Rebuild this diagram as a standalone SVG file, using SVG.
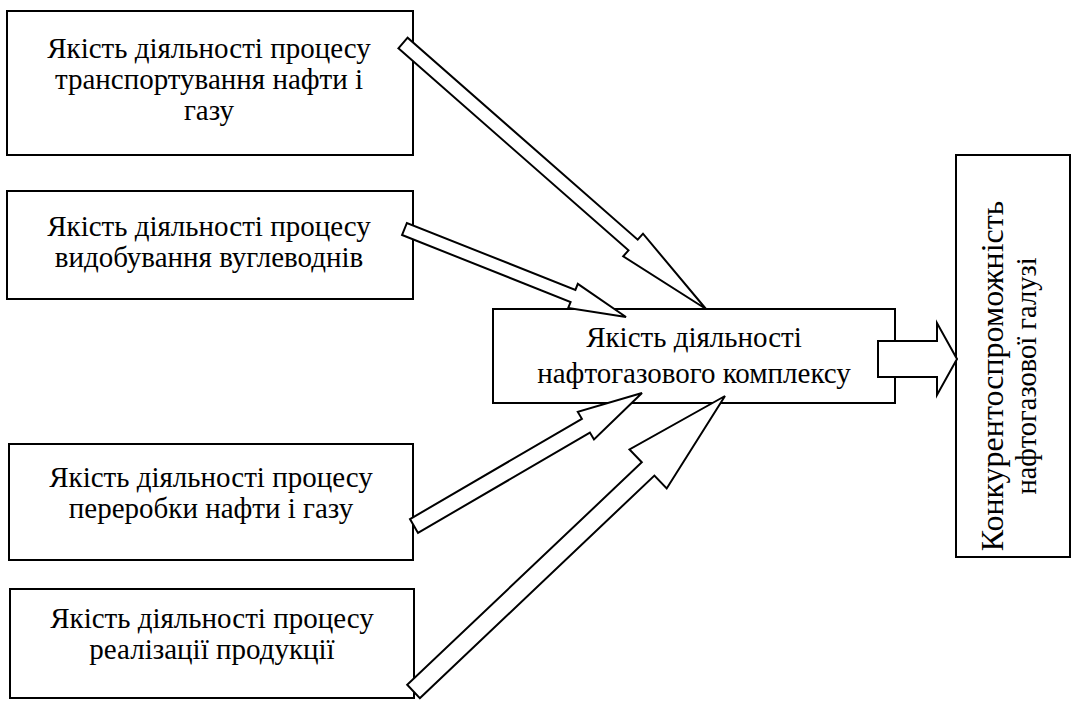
<svg xmlns="http://www.w3.org/2000/svg" width="1076" height="701" viewBox="0 0 1076 701">
<style>
.box{fill:#fff;stroke:#000;stroke-width:2}
.arr{fill:#fff;stroke:#000;stroke-width:2;stroke-linejoin:miter}
.t{font-family:'Liberation Serif','Times New Roman',Tinos,'DejaVu Serif',serif;font-size:29px;fill:#000;text-anchor:middle}
.v{font-size:32px}
.v2{font-size:28.5px}
</style>
<rect width="1076" height="701" fill="#fff"/>
<g id="n1"><rect class="box" x="7" y="11" width="406" height="144"/>
<text class="t" x="209" y="58">Якість діяльності процесу</text>
<text class="t" x="209" y="89">транспортування нафти і</text>
<text class="t" x="209" y="120">газу</text></g>
<g id="n2"><rect class="box" x="7" y="191" width="406" height="108"/>
<text class="t" x="209" y="236">Якість діяльності процесу</text>
<text class="t" x="209" y="267">видобування вуглеводнів</text></g>
<g id="n3"><rect class="box" x="9" y="444" width="404" height="116"/>
<text class="t" x="211" y="487">Якість діяльності процесу</text>
<text class="t" x="211" y="518">переробки нафти і газу</text></g>
<g id="n4"><rect class="box" x="10" y="589" width="404" height="109"/>
<text class="t" x="212" y="628">Якість діяльності процесу</text>
<text class="t" x="212" y="659">реалізації продукції</text></g>
<g id="n5"><rect class="box" x="493" y="309" width="402" height="94"/>
<text class="t" x="694" y="347">Якість діяльності</text>
<text class="t" x="694" y="383">нафтогазового комплексу</text></g>
<g id="n6"><rect class="box" x="956" y="155" width="114" height="402"/>
<g transform="rotate(-90)">
<text class="t v" x="-376" y="1003">Конкурентоспроможність</text>
<text class="t v2" x="-376" y="1036">нафтогазової галузі</text></g></g>
<g id="connectors">
<polygon class="arr" points="398.4,48.3 628.5,250.3 623.2,256.3 706,309 643.0,233.7 637.7,239.7 407.6,37.7"/>
<polygon class="arr" points="402.1,235.0 570.6,302.0 568.2,308.0 626,317 577.8,283.9 575.4,289.9 406.9,223.0"/>
<polygon class="arr" points="418.0,532.9 589.9,432.6 594.0,439.5 642,393 577.8,411.9 581.9,418.8 410.0,519.1"/>
<polygon class="arr" points="419.8,698.2 654.4,475.6 666.7,488.5 725,396 629.5,449.4 641.8,462.3 407.2,684.8"/>
<polygon class="arr" points="878,341 937,341 937,323 957,359 937,395 937,377 878,377"/>
</g>
</svg>
